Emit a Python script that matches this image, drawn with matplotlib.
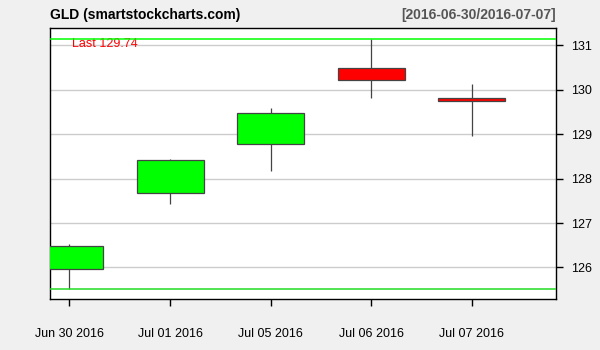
import matplotlib
matplotlib.use("Agg")
import matplotlib.pyplot as plt
from matplotlib.patches import Rectangle

plt.rcParams['font.family'] = ['Liberation Sans', 'DejaVu Sans']

# OHLC data
dates = ["Jun 30 2016", "Jul 01 2016", "Jul 05 2016", "Jul 06 2016", "Jul 07 2016"]
opens = [125.96, 127.67, 128.79, 130.50, 129.82]
highs = [126.53, 128.44, 129.58, 131.15, 130.12]
lows = [125.51, 127.43, 128.16, 129.82, 128.96]
closes = [126.48, 128.41, 129.47, 130.22, 129.74]
yticks = [126, 127, 128, 129, 130, 131]

fig = plt.figure(figsize=(6, 3.5), dpi=100, facecolor='#f0f0f0')
ax = fig.add_axes([0.0838, 0.1457, 0.8429, 0.7743])
ax.set_facecolor('white')

body_w = 0.667
for i in range(len(dates)):
    o, h, l, c = opens[i], highs[i], lows[i], closes[i]
    col = '#00ff00' if c >= o else '#ff0000'
    ax.plot([i, i], [l, h], color='#444444', lw=0.9, zorder=2, solid_capstyle='butt')
    ax.add_patch(Rectangle((i - body_w / 2, min(o, c)), body_w, abs(c - o),
                           facecolor=col, edgecolor='#444444', lw=0.9, zorder=3))

# range lines (max high / min low)
ax.axhline(max(highs), color='#00ff00', lw=1.1, zorder=4)
ax.axhline(min(lows), color='#22dd22', lw=1.1, zorder=4)

ax.set_xlim(-0.191, 4.838)
ax.set_ylim(125.29, 131.39)

ax.set_yticks(yticks)
ax.set_yticklabels([str(t) for t in yticks])
ax.yaxis.tick_right()
ax.grid(axis='y', color='#cccccc', lw=1, zorder=1)
ax.set_axisbelow(True)

ax.set_xticks(range(len(dates)))
ax.set_xticklabels(dates)
ax.tick_params(axis='x', length=5, width=1, pad=16, labelsize=9)
ax.tick_params(axis='y', length=5, width=1, pad=5.5, labelsize=9)

for s in ax.spines.values():
    s.set_color('black')
    s.set_linewidth(1)

ax.text(0.042, 0.941, "Last 129.74", color='#ff0000', fontsize=9,
        transform=ax.transAxes, ha='left', va='center')

fig.text(0.0838, 0.957, "GLD (smartstockcharts.com)", fontsize=10,
         fontweight='bold', ha='left', va='center', color='black')
fig.text(0.9267, 0.957, "[2016-06-30/2016-07-07]", fontsize=10,
         fontweight='bold', ha='right', va='center', color='#555555')

fig.savefig("out.png", dpi=100, facecolor=fig.get_facecolor())
